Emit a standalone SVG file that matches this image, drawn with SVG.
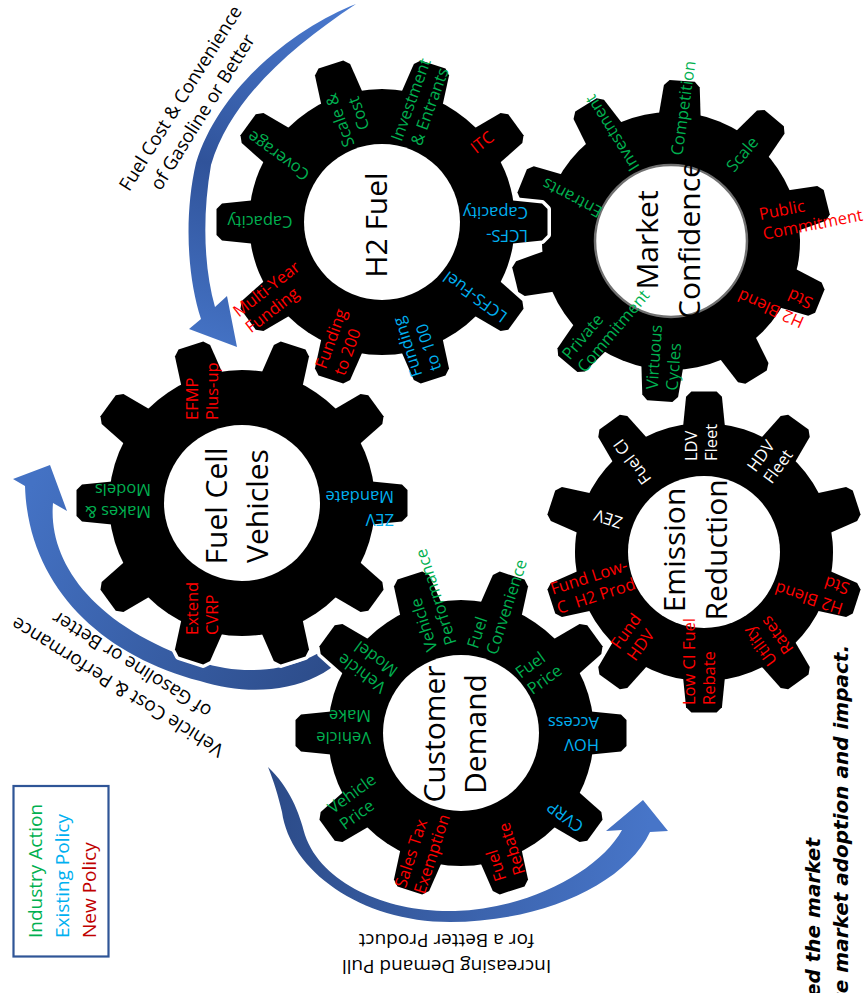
<svg xmlns="http://www.w3.org/2000/svg" width="866" height="993" viewBox="0 0 866 993">
<style>
.lbl{font-family:"Open Sans","Noto Sans",sans-serif;font-size:16.5px}
.ttl{font-family:"Open Sans","Noto Sans",sans-serif;font-size:30px;fill:#000;text-anchor:middle}
.arw{font-family:"Open Sans","Noto Sans",sans-serif;font-size:19px;fill:#000;text-anchor:middle}
.leg{font-family:"Open Sans","Noto Sans",sans-serif;font-size:19px;text-anchor:start}
.cap{font-family:"DejaVu Sans",sans-serif;font-size:20px;font-weight:bold;font-style:italic;fill:#000;text-anchor:end}
.m{text-anchor:middle}
.s{text-anchor:start}
.g{fill:#00b050}.b{fill:#00b0f0}.r{fill:#ff0000}.w{fill:#ffffff}
.outline{fill:#fff;stroke:#fff;stroke-width:7;stroke-linejoin:round}
.body{fill:#000}
.hole{fill:#fff}
</style>
<defs>
<polygon id="tooth" points="125,-22 160,-18.5 165.5,-13 165.5,13 160,18.5 125,22"/>
<g id="gear">
<circle r="133"/>
<use href="#tooth"/>
<use href="#tooth" transform="rotate(36)"/>
<use href="#tooth" transform="rotate(72)"/>
<use href="#tooth" transform="rotate(108)"/>
<use href="#tooth" transform="rotate(144)"/>
<use href="#tooth" transform="rotate(180)"/>
<use href="#tooth" transform="rotate(216)"/>
<use href="#tooth" transform="rotate(252)"/>
<use href="#tooth" transform="rotate(288)"/>
<use href="#tooth" transform="rotate(324)"/>
</g>
<linearGradient id="gradTop" gradientUnits="userSpaceOnUse" x1="350" y1="0" x2="220" y2="345">
<stop offset="0" stop-color="#4b7bd1"/><stop offset="0.55" stop-color="#30539a"/><stop offset="1" stop-color="#4472c4"/>
</linearGradient>
<linearGradient id="gradLeft" gradientUnits="userSpaceOnUse" x1="360" y1="640" x2="40" y2="470">
<stop offset="0" stop-color="#2c4b88"/><stop offset="1" stop-color="#4472c4"/>
</linearGradient>
<linearGradient id="gradBottom" gradientUnits="userSpaceOnUse" x1="270" y1="780" x2="650" y2="820">
<stop offset="0" stop-color="#2c4b88"/><stop offset="1" stop-color="#4775c8"/>
</linearGradient>
</defs>
<rect width="866" height="993" fill="#fff"/>

<g id="connectors">
<path id="arrow-fuel-to-vehicles" fill="url(#gradTop)" d="M 356,4 C 302,25 221,82 196,163 C 184,215 187,276 201,319 L 189,329 L 237,347 L 227,296 L 215,307 C 204,268 202,217 211,165 C 230,101 288,49 356,4 Z"/>
<path id="arrow-demand-to-vehicles" fill="url(#gradLeft)" d="M 50,465 L 67,511 L 53,503 C 48,560 90,625 200,662 C 250,678 310,672 350,628 L 362,634 C 330,690 260,700 200,681 C 100,655 28,585 25,486 L 13,479 Z"/>
<path id="arrow-demand-loop" fill="url(#gradBottom)" d="M 643,800 L 668,831 L 650,832 C 625,885 540,922 450,922 C 360,922 290,870 282,812 C 278,795 274,782 268,767 C 290,788 299,812 305,835 C 322,885 390,913 455,911 C 530,909 600,870 622,830 L 606,831 Z"/>
</g>

<g id="node-market-confidence">
<use href="#gear" class="outline" transform="translate(671,241) rotate(22) scale(0.97)"/>
<use href="#gear" class="body" transform="translate(671,241) rotate(22) scale(0.97)"/>
<circle cx="671" cy="241" r="76" fill="#fff" stroke="#707070" stroke-width="2.5"/>
<text class="ttl" transform="translate(668,240) rotate(270)"><tspan x="0" y="-10">Market</tspan><tspan x="0" y="32">Confidence</tspan></text>
<text class="lbl g m" transform="translate(612,133) rotate(238)" x="0" y="6">Investment</text>
<text class="lbl g m" transform="translate(572,198) rotate(208)" x="0" y="6">Entrants</text>
<text class="lbl g m" transform="translate(683,108) rotate(278)" x="0" y="6">Competition</text>
<text class="lbl g m" transform="translate(742,154) rotate(310)" x="0" y="6">Scale</text>
<text class="lbl r s" transform="translate(812,214) rotate(349)"><tspan x="-52" y="-4">Public</tspan><tspan x="-52" y="16">Commitment</tspan></text>
<text class="lbl r s" transform="translate(776,300) rotate(204)"><tspan x="-34" y="-4.5">H2 Blend</tspan><tspan x="-34" y="16.5">Std</tspan></text>
<text class="lbl g s" transform="translate(664,356) rotate(274)"><tspan x="-34" y="-4">Virtuous</tspan><tspan x="-34" y="16">Cycles</tspan></text>
<text class="lbl g s" transform="translate(605,325) rotate(310)"><tspan x="-50" y="-4">Private</tspan><tspan x="-50" y="16">Commitment</tspan></text>
</g>

<g id="node-emission-reduction">
<use href="#gear" class="outline" transform="translate(704,552) rotate(18) scale(0.97)"/>
<use href="#gear" class="body" transform="translate(704,552) rotate(18) scale(0.97)"/>
<circle cx="704" cy="552" r="76" class="hole"/>
<text class="ttl" transform="translate(695,550) rotate(270)"><tspan x="0" y="-10">Emission</tspan><tspan x="0" y="32">Reduction</tspan></text>
<text class="lbl w m" transform="translate(608,519) rotate(198)" x="0" y="6">ZEV</text>
<text class="lbl w m" transform="translate(632,462) rotate(234)" x="0" y="6">Fuel CI</text>
<text class="lbl w s" transform="translate(701,442) rotate(270)"><tspan x="-19" y="-4">LDV</tspan><tspan x="-19" y="16">Fleet</tspan></text>
<text class="lbl w s" transform="translate(770,460) rotate(306)"><tspan x="-19" y="-4">HDV</tspan><tspan x="-19" y="16">Fleet</tspan></text>
<text class="lbl r s" transform="translate(813,589) rotate(198)"><tspan x="-34" y="-4.5">H2 Blend</tspan><tspan x="-34" y="16.5">Std</tspan></text>
<text class="lbl r s" transform="translate(767,639) rotate(234)"><tspan x="-24" y="-4">Utility</tspan><tspan x="-24" y="16">Rates</tspan></text>
<text class="lbl r s" transform="translate(699,659) rotate(270)"><tspan x="-46" y="-4">Low CI Fuel</tspan><tspan x="-46" y="16">Rebate</tspan></text>
<text class="lbl r s" transform="translate(633,638) rotate(306)"><tspan x="-18" y="-4">Fund</tspan><tspan x="-18" y="16">HDV</tspan></text>
<text class="lbl r s" transform="translate(593,586) rotate(342)"><tspan x="-41" y="-4">Fund Low-</tspan><tspan x="-41" y="16">C&#160; H2 Prod</tspan></text>
</g>

<g id="node-h2-fuel">
<use href="#gear" class="outline" transform="translate(382,222)"/>
<use href="#gear" class="body" transform="translate(382,222)"/>
<circle cx="382" cy="222" r="78" class="hole"/>
<text class="ttl" transform="translate(376,225) rotate(270)" x="0" y="11">H2 Fuel</text>
<text class="lbl g m" transform="translate(260,222) rotate(180)" x="0" y="6">Capacity</text>
<text class="lbl g m" transform="translate(278,156) rotate(216)" x="0" y="6">Coverage</text>
<text class="lbl g m" transform="translate(349,117) rotate(250)"><tspan x="0" y="-4">Scale &amp;</tspan><tspan x="0" y="16">Cost</tspan></text>
<text class="lbl g m" transform="translate(420,103) rotate(290)"><tspan x="0" y="-4">Investment</tspan><tspan x="0" y="16">&amp; Entrants</tspan></text>
<text class="lbl r m" transform="translate(482,142) rotate(322)" x="0" y="6">ITC</text>
<text class="lbl b s" transform="translate(496,224) rotate(180)"><tspan x="-32" y="-5.5">LCFS-</tspan><tspan x="-32" y="17.5">Capacity</tspan></text>
<text class="lbl b m" transform="translate(475,297) rotate(216)" x="0" y="6">LCFS-Fuel</text>
<text class="lbl b s" transform="translate(417,345) rotate(252)"><tspan x="-30" y="-4">Funding</tspan><tspan x="-30" y="16">to 100</tspan></text>
<text class="lbl r s" transform="translate(340,342) rotate(290)"><tspan x="-31" y="-4">Funding</tspan><tspan x="-31" y="16">to 200</tspan></text>
<text class="lbl r s" transform="translate(272,297) rotate(322)"><tspan x="-39" y="-4">Multi-Year</tspan><tspan x="-39" y="16">Funding</tspan></text>
</g>

<g id="node-fuel-cell-vehicles">
<use href="#gear" class="outline" transform="translate(242,503)"/>
<use href="#gear" class="body" transform="translate(242,503)"/>
<circle cx="242" cy="503" r="78" class="hole"/>
<text class="ttl" transform="translate(236,506) rotate(270)"><tspan x="0" y="-9">Fuel Cell</tspan><tspan x="0" y="32">Vehicles</tspan></text>
<text class="lbl r s" transform="translate(202,390) rotate(270)"><tspan x="-30" y="-4">EFMP</tspan><tspan x="-30" y="16">Plus-up</tspan></text>
<text class="lbl g s" transform="translate(117,501) rotate(180)"><tspan x="-34" y="-5">Makes &amp;</tspan><tspan x="-34" y="17">Models</tspan></text>
<text class="lbl r s" transform="translate(202,609) rotate(270)"><tspan x="-26" y="-4">Extend</tspan><tspan x="-26" y="16">CVRP</tspan></text>
<text class="lbl b s" transform="translate(361,508) rotate(180)"><tspan x="-33" y="-5.5">ZEV</tspan><tspan x="-33" y="17">Mandate</tspan></text>
</g>

<g id="node-customer-demand">
<use href="#gear" class="outline" transform="translate(461,733)"/>
<use href="#gear" class="body" transform="translate(461,733)"/>
<circle cx="461" cy="733" r="78" class="hole"/>
<text class="ttl" transform="translate(455,734) rotate(270)"><tspan x="0" y="-10">Customer</tspan><tspan x="0" y="31">Demand</tspan></text>
<text class="lbl g s" transform="translate(427,603) rotate(252)"><tspan x="-47" y="-4">Vehicle</tspan><tspan x="-47" y="16">Performance</tspan></text>
<text class="lbl g s" transform="translate(496,606) rotate(288)"><tspan x="-47" y="-4">Fuel</tspan><tspan x="-47" y="16">Convenience</tspan></text>
<text class="lbl g s" transform="translate(540,670) rotate(324)"><tspan x="-21" y="-4">Fuel</tspan><tspan x="-21" y="16">Price</tspan></text>
<text class="lbl b s" transform="translate(572,734) rotate(180)"><tspan x="-27" y="-5">HOV</tspan><tspan x="-27" y="17">Access</tspan></text>
<text class="lbl b m" transform="translate(565,817) rotate(216)" x="0" y="6">CVRP</text>
<text class="lbl r s" transform="translate(502,852) rotate(252)"><tspan x="-27" y="-4">Fuel</tspan><tspan x="-27" y="16">Rebate</tspan></text>
<text class="lbl r s" transform="translate(422,851) rotate(288)"><tspan x="-41" y="-4">Sales Tax</tspan><tspan x="-41" y="16">Exemption</tspan></text>
<text class="lbl g s" transform="translate(358,801) rotate(324)"><tspan x="-28" y="-4">Vehicle</tspan><tspan x="-28" y="16">Price</tspan></text>
<text class="lbl g s" transform="translate(343,727) rotate(180)"><tspan x="-28" y="-5">Vehicle</tspan><tspan x="-28" y="17">Make</tspan></text>
<text class="lbl g s" transform="translate(367,665) rotate(216)"><tspan x="-28" y="-4">Vehicle</tspan><tspan x="-28" y="16">Model</tspan></text>
</g>

<g id="connector-labels">
<text class="arw" style="font-size:18.6px" transform="translate(191.5,105) rotate(-58)"><tspan x="0" y="-6.5">Fuel Cost &amp; Convenience</tspan><tspan x="0" y="19.5">of Gasoline or Better</tspan></text>
<text class="arw" transform="translate(124.5,676) rotate(212)"><tspan x="0" y="-6.5">Vehicle Cost &amp; Performance</tspan><tspan x="0" y="20">of Gasoline or Better</tspan></text>
<text class="arw" transform="translate(446.5,953.5) rotate(180)"><tspan x="0" y="-6.5">Increasing Demand Pull</tspan><tspan x="0" y="20">for a Better Product</tspan></text>
</g>

<g id="legend">
<rect x="13.5" y="786" width="95" height="170.5" fill="#fff" stroke="#2f5597" stroke-width="2.2"/>
<text class="leg g" transform="translate(41.5,938) rotate(-90)" x="0" y="0">Industry Action</text>
<text class="leg b" transform="translate(68.5,938) rotate(-90)" x="0" y="0">Existing Policy</text>
<text class="leg" fill="#c00000" transform="translate(95.5,938) rotate(-90)" x="0" y="0">New Policy</text>
</g>

<g id="caption">
<text class="cap" transform="translate(820,838) rotate(-90)" x="0" y="0">ed the market</text>
<text class="cap" transform="translate(848,645) rotate(-90)" x="0" y="0">te market adoption and impact.</text>
</g>
</svg>
